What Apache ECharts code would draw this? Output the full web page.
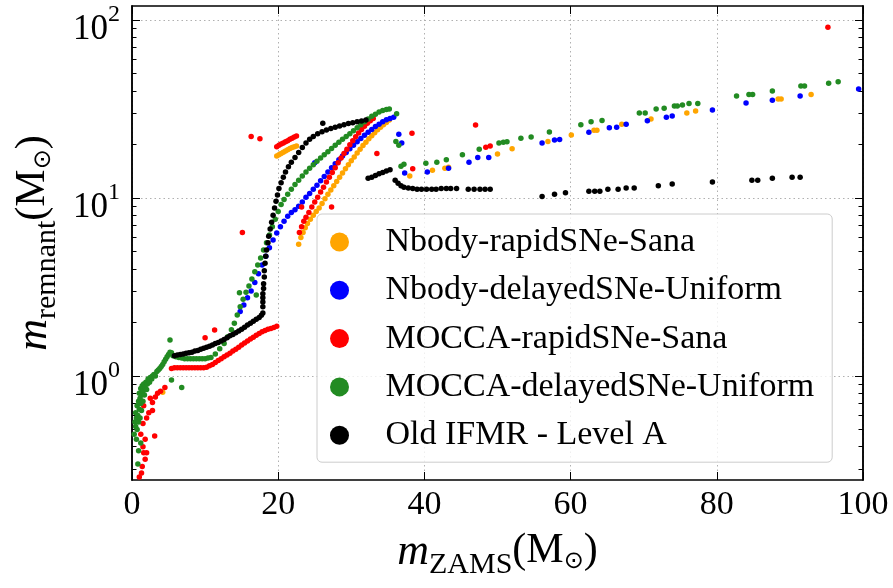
<!DOCTYPE html>
<html>
<head>
<meta charset="UTF-8">
<title>Remnant mass vs ZAMS mass</title>
<script src="https://cdn.jsdelivr.net/npm/echarts@6/dist/echarts.min.js"></script>
<style>
  html, body {margin: 0; padding: 0; background: #fff;}
  #chart {width: 893px; height: 588px;}
</style>
</head>
<body>
<div id="chart"></div>
<script>
// [m_ZAMS, m_remnant] pairs
const nbodyRapidSana = [
  [4.2,0.81],
  [19.8,17.2],[20.1,17.5],[20.4,17.8],[20.7,18.1],[21.0,18.4],[21.3,18.7],[21.6,19.0],[21.9,19.2],[22.2,19.4],[22.5,19.6],
  [22.8,5.5],[23.1,6.0],[23.4,6.4],[23.7,6.8],[24.0,7.2],[24.4,7.6],[24.8,8.0],[25.2,8.4],[25.6,8.8],[26.0,9.3],
  [26.4,9.9],[26.8,10.5],[27.2,11.1],[27.6,11.7],[28.0,12.4],[28.4,13.1],[28.8,13.8],[29.2,14.6],[29.6,15.4],[30.0,16.2],
  [30.4,17.0],[30.8,17.9],[31.2,18.8],[31.6,19.7],[32.0,20.6],[32.4,21.5],[32.8,22.4],[33.2,23.3],[33.6,24.2],[34.0,25.0],
  [34.4,25.8],[34.8,26.6],[35.2,27.4],
  [38.0,13.3],[41.1,14.3],[42.8,14.7],[43.3,14.9],[50.0,17.7],[52.0,18.9],[56.9,20.8],[60.1,22.6],[63.2,24.0],[63.6,24.0],
  [67.0,26.0],[71.0,27.8],[75.9,30.0],[77.1,30.8],[88.4,36.0],[88.8,36.0],[92.9,38.2]
];
const nbodyDelayedUniform = [
  [14.8,2.3],[15.3,2.5],[15.8,2.75],[16.3,3.0],[16.8,3.35],[17.3,3.75],[17.8,4.2],[18.3,4.7],[18.8,5.25],[19.3,5.8],
  [19.8,6.35],[20.3,6.9],[20.8,7.4],[21.3,7.9],[21.8,8.3],[22.3,8.6],[22.8,9.0],[23.3,9.5],[23.8,10.1],[24.3,10.6],
  [24.8,11.2],[25.3,11.8],[25.8,12.5],[26.3,13.2],[26.8,14.0],[27.3,14.8],[27.8,15.6],[28.3,16.4],[28.8,17.2],[29.3,18.0],
  [29.8,18.9],[30.3,19.8],[30.8,20.7],[31.3,21.6],[31.8,22.5],[32.3,23.4],[32.8,24.3],[33.3,25.2],[33.8,26.0],[34.3,26.8],
  [34.8,27.5],[35.3,28.0],[35.8,28.4],[25.0,15.8],
  [36.5,22.8],[36.9,20.4],[37.3,13.8],[40.4,14.0],[43.3,14.7],[46.1,15.9],[47.3,16.9],[48.8,16.9],[56.1,20.4],[57.8,21.2],
  [58.5,21.3],[62.5,23.4],[65.3,24.8],[66.3,25.0],[67.6,26.0],[70.5,27.2],[73.1,28.4],[73.9,28.9],[79.4,31.2],[84.0,34.2],
  [87.6,35.4],[91.4,37.4],[99.4,41.0]
];
const moccaRapidSana = [
  [1.0,0.27],[1.3,0.285],[1.4,0.31],[1.8,0.34],[1.6,0.37],[2.0,0.37],[1.5,0.40],[1.8,0.44],[1.2,0.47],[3.1,0.46],
  [1.5,0.54],[2.0,0.58],[2.3,0.62],[2.8,0.64],[1.6,0.68],[2.8,0.71],[2.5,0.75],[3.2,0.76],[3.5,0.80],[3.9,0.82],[4.5,0.86],
  [5.4,1.10],[5.8,1.11],[6.2,1.11],[6.6,1.11],[7.0,1.11],[7.4,1.11],[7.8,1.11],[8.2,1.11],[8.6,1.11],[9.0,1.11],
  [9.4,1.11],[9.8,1.11],[10.2,1.12],[10.6,1.14],[11.0,1.16],[11.4,1.19],[11.8,1.22],[12.2,1.25],[12.6,1.28],[13.0,1.31],
  [13.4,1.34],[13.8,1.38],[14.2,1.41],[14.6,1.45],[15.0,1.49],[15.4,1.53],[15.8,1.57],[16.2,1.61],[16.6,1.65],[17.0,1.69],
  [17.4,1.73],[17.8,1.77],[18.2,1.80],[18.6,1.83],[19.0,1.85],[19.4,1.87],[19.8,1.90],
  [10.0,1.64],[11.3,1.81],[15.1,6.4],[16.3,22.2],[17.5,21.5],
  [19.8,19.4],[20.1,19.8],[20.4,20.1],[20.7,20.4],[21.0,20.7],[21.3,21.0],[21.6,21.4],[21.9,21.7],[22.2,22.0],[22.5,22.3],
  [22.9,6.4],[23.2,6.9],[23.5,7.4],[23.8,7.8],[24.2,8.3],[24.6,8.9],[25.0,9.5],[25.4,10.1],[25.8,10.8],[26.2,11.5],
  [26.6,12.3],[27.0,13.1],[27.4,13.9],[27.8,14.8],[28.2,15.8],[28.6,16.8],[29.0,17.8],[29.4,18.8],[29.8,19.9],[30.2,21.0],
  [30.6,22.1],[31.0,23.2],[31.4,24.3],[31.8,25.3],[32.2,26.3],[32.6,27.2],[33.0,28.0],
  [23.2,8.9],[27.3,8.9],[33.5,17.8],[38.3,23.1],[38.4,14.6],[47.0,25.7],[48.4,19.3],[49.0,19.6],[95.2,91.0]
];
const moccaDelayedUniform = [
  [0.3,0.47],[0.4,0.55],[0.5,0.52],[0.5,0.62],[0.6,0.44],[0.6,0.58],[0.7,0.68],[0.7,0.50],[0.8,0.32],[0.8,0.60],
  [0.9,0.72],[0.9,0.55],[0.9,0.38],[1.0,0.65],[1.0,0.80],[1.1,0.58],[1.1,0.75],[1.2,0.70],[1.2,0.85],[1.2,0.42],
  [1.3,0.64],[1.3,0.78],[1.4,0.88],[1.5,0.72],[1.5,0.82],[1.6,0.90],[1.7,0.78],[1.8,0.86],[1.9,0.92],[2.0,0.84],
  [2.1,0.90],[2.2,0.96],[2.4,0.92],[2.5,0.98],[2.7,0.96],[2.8,1.00],[3.0,1.02],[3.2,1.00],[3.4,1.06],[3.6,1.08],
  [3.8,1.10],[4.0,1.13],[4.2,1.16],[4.4,1.20],[4.6,1.24],[4.8,1.28],[5.0,1.32],[5.2,1.36],[5.4,1.35],
  [5.2,1.59],[5.4,0.95],[6.8,0.86],[14.7,2.93],[17.0,2.85],
  [5.6,1.30],[6.0,1.28],[6.4,1.27],[6.8,1.26],[7.2,1.25],[7.6,1.25],[8.0,1.25],[8.4,1.25],[8.8,1.25],[9.2,1.25],
  [9.6,1.25],[10.0,1.25],[10.4,1.26],
  [10.8,1.27],[11.4,1.33],[12.0,1.42],[12.6,1.52],[13.1,1.66],[13.6,1.82],[14.0,1.98],[14.4,2.2],[14.8,2.45],[15.2,2.7],
  [15.6,2.95],[16.0,3.2],[16.4,3.5],[16.8,3.85],[17.2,4.2],[17.6,4.6],[18.0,5.1],[18.4,5.6],[18.8,6.2],[19.2,6.9],
  [19.6,7.6],[20.0,8.4],[20.4,9.2],[20.8,9.8],[21.3,10.5],[21.8,11.2],[22.3,11.9],[22.8,12.6],[23.3,13.3],[23.8,14.0],
  [24.3,14.7],[24.8,15.4],[25.3,16.1],[25.8,16.8],[26.3,17.5],[26.8,18.2],[27.3,19.0],[27.8,19.8],[28.3,20.6],[28.8,21.4],
  [29.3,22.2],[29.8,23.0],[30.3,23.9],[30.8,24.8],[31.3,25.8],[31.8,26.8],[32.3,27.8],[32.8,28.8],[33.3,29.6],[33.8,30.4],
  [34.3,31.0],[34.8,31.4],[35.2,31.6],[36.2,29.8],[36.1,20.8],[36.5,19.8],
  [36.8,15.1],[37.2,15.5],[40.2,15.7],[41.7,15.9],[43.0,16.4],[45.2,17.5],[47.5,18.8],[50.2,20.4],[50.8,20.6],[51.3,20.7],
  [53.2,21.7],[54.6,22.0],[57.1,23.5],[61.4,25.8],[62.8,26.8],[64.3,27.3],[69.4,30.0],[70.2,30.0],[71.7,31.6],[72.8,32.0],
  [74.2,32.9],[74.6,32.9],[75.3,33.3],[76.2,34.0],[77.4,34.0],[82.7,37.4],[84.4,38.2],[84.9,38.2],[87.6,40.0],[91.5,42.6],
  [92.0,42.6],[95.3,44.2],[96.6,45.0]
];
const oldIfmrLevelA = [
  [5.8,1.30],[6.2,1.31],[6.6,1.32],[7.0,1.33],[7.4,1.34],[7.8,1.35],[8.2,1.36],[8.6,1.38],[9.0,1.39],[9.4,1.41],
  [9.8,1.43],[10.2,1.45],[10.6,1.47],[11.0,1.49],[11.4,1.52],[11.8,1.54],[12.2,1.57],[12.6,1.60],[13.0,1.64],[13.4,1.68],
  [13.8,1.71],[14.2,1.75],[14.6,1.79],[15.0,1.83],[15.4,1.88],[15.8,1.93],[16.2,1.98],[16.6,2.03],[17.0,2.08],[17.4,2.13],
  [17.7,2.19],[17.9,2.26],
  [17.9,2.45],[17.9,2.6],[17.9,2.75],[17.9,2.9],[18.0,3.1],[18.0,3.3],[18.1,3.6],[18.1,3.9],[18.2,4.3],[18.3,4.7],
  [18.4,5.1],[18.6,5.6],[18.7,6.1],[18.9,6.7],[19.1,7.3],[19.3,8.0],[19.5,8.8],[19.7,9.6],[19.9,10.4],[20.1,11.3],
  [20.4,12.2],[20.7,13.1],[21.0,14.0],[21.4,15.0],[21.8,15.9],[22.3,16.9],[22.8,18.0],[23.3,19.2],[23.8,20.4],[24.3,21.4],
  [24.8,22.2],[25.4,23.0],[26.0,23.6],[26.6,24.1],[27.2,24.6],[27.8,25.0],[28.4,25.4],[29.0,25.8],[29.6,26.2],[30.2,26.5],
  [30.8,26.8],[31.4,27.1],[32.0,27.4],[26.1,26.3],
  [32.3,12.9],[32.8,13.1],[33.3,13.4],[33.8,13.7],[34.3,13.9],[34.8,14.2],[35.3,14.4],[36.0,12.6],[36.4,12.1],[36.8,11.7],
  [37.2,11.5],[37.8,11.4],[38.4,11.3],[39.0,11.2],[39.6,11.2],[40.3,11.2],[41.0,11.2],[41.6,11.2],[42.3,11.3],[43.0,11.3],
  [43.6,11.3],[44.4,11.3],[46.0,11.2],[46.8,11.2],[47.6,11.2],[48.3,11.2],[49.0,11.2],
  [56.1,10.2],[57.8,10.5],[59.3,10.7],[62.5,10.9],[63.3,10.9],[64.0,10.9],[65.1,11.2],[66.5,11.2],[67.6,11.4],[68.7,11.4],
  [72.0,11.7],[73.9,12.0],[79.4,12.3],[84.8,12.6],[85.6,12.6],[87.6,12.9],[90.3,13.1],[91.4,13.1]
];

const seriesNames = ['Nbody-rapidSNe-Sana', 'Nbody-delayedSNe-Uniform', 'MOCCA-rapidSNe-Sana',
                     'MOCCA-delayedSNe-Uniform', 'Old IFMR - Level A'];
const seriesColors = ['#ffa500', '#0000ff', '#ff0000', '#228b22', '#000000'];
const xTicks = [0, 20, 40, 60, 80, 100];
const yMajorTicks = [1, 10, 100];
const yMinorTicks = [0.3, 0.4, 0.5, 0.6, 0.7, 0.8, 0.9, 2, 3, 4, 5, 6, 7, 8, 9, 20, 30, 40, 50, 60, 70, 80, 90];

const FONT = '"Liberation Serif", "DejaVu Serif", serif';
const Y_MIN = 0.26, Y_MAX = 120;

// math-ish rich text for axis titles
const titleRich = {
  i: {fontFamily: FONT, fontStyle: 'italic', fontSize: 44, lineHeight: 44, verticalAlign: 'top', color: '#000'},
  r: {fontFamily: FONT, fontSize: 42, lineHeight: 44, verticalAlign: 'top', color: '#000'},
  sub: {fontFamily: FONT, fontSize: 30, lineHeight: 30, padding: [20, 0, 0, 0], verticalAlign: 'top', color: '#000'},
  dot: {fontFamily: '"DejaVu Sans"', fontSize: 24, lineHeight: 30, padding: [20, 0, 0, 0], verticalAlign: 'top', color: '#000'}
};

const frameLine = {show: true, lineStyle: {color: '#000', width: 1.5}};
const gridLine = {show: true, lineStyle: {color: '#b0b0b0', width: 1, type: [1.5, 3]}};

function logAxis(position, withLabels, ticks, tickLen) {
  return {
    type: 'log', logBase: 10, min: Y_MIN, max: Y_MAX, position: position,
    axisLine: frameLine,
    axisTick: {show: true, inside: true, length: tickLen, customValues: ticks, lineStyle: {color: '#000', width: 1}},
    axisLabel: withLabels ? {
      show: true, customValues: yMajorTicks, margin: 12,
      fontFamily: FONT,
      formatter: v => '{b|10}{s|' + Math.round(Math.log10(v)) + '}',
      rich: {
        b: {fontFamily: FONT, fontSize: 35, lineHeight: 35, padding: [10, 0, 0, 0], verticalAlign: 'top', color: '#000'},
        s: {fontFamily: FONT, fontSize: 24, lineHeight: 24, verticalAlign: 'top', color: '#000'}
      }
    } : {show: false},
    splitLine: withLabels ? gridLine : {show: false}
  };
}

const chart = echarts.init(document.getElementById('chart'), null, {renderer: 'canvas'});
chart.setOption({
  animation: false,
  backgroundColor: '#fff',
  textStyle: {fontFamily: FONT},
  grid: {left: 132, right: 30, top: 6, bottom: 108, outerBoundsMode: 'none'},
  xAxis: [
    {
      type: 'value', min: 0, max: 100, interval: 20, position: 'bottom',
      axisLine: frameLine,
      axisTick: {show: true, inside: true, length: 8, lineStyle: {color: '#000', width: 1}},
      axisLabel: {show: true, margin: 8, fontFamily: FONT, fontSize: 34, color: '#000',
                  customValues: xTicks},
      splitLine: gridLine,
      name: '{i|m}{sub|ZAMS}{r|(M}{dot|⊙}{r|)}',
      nameLocation: 'middle', nameGap: 50,
      nameTextStyle: {rich: titleRich}
    },
    {
      type: 'value', min: 0, max: 100, interval: 20, position: 'top',
      axisLine: frameLine,
      axisTick: {show: true, inside: true, length: 8, lineStyle: {color: '#000', width: 1}},
      axisLabel: {show: false}, splitLine: {show: false}
    }
  ],
  yAxis: [
    Object.assign(logAxis('left', true, yMajorTicks, 8), {
      name: '{i|m}{sub|remnant}{r|(M}{dot|⊙}{r|)}',
      nameLocation: 'middle', nameGap: 74, nameRotate: 90,
      nameTextStyle: {rich: titleRich}
    }),
    logAxis('left', false, yMinorTicks, 4.5),
    logAxis('right', false, yMajorTicks, 8),
    logAxis('right', false, yMinorTicks, 4.5)
  ],
  legend: {
    orient: 'vertical', left: 317, top: 214,
    padding: [11, 18, 10, 13],
    itemWidth: 38, itemHeight: 19, itemGap: 14.3,
    icon: 'circle',
    backgroundColor: 'rgba(255,255,255,0.8)', borderColor: '#cccccc', borderWidth: 1, borderRadius: 5,
    textStyle: {fontFamily: FONT, fontSize: 34, lineHeight: 32, color: '#000', padding: [0, 0, 0, 22]},
    data: seriesNames
  },
  series: [nbodyRapidSana, nbodyDelayedUniform, moccaRapidSana, moccaDelayedUniform, oldIfmrLevelA].map((d, k) => ({
    name: seriesNames[k],
    type: 'scatter',
    data: d,
    symbolSize: 5.5,
    itemStyle: {color: seriesColors[k], opacity: 1},
    emphasis: {disabled: true}
  }))
});
</script>
</body>
</html>
